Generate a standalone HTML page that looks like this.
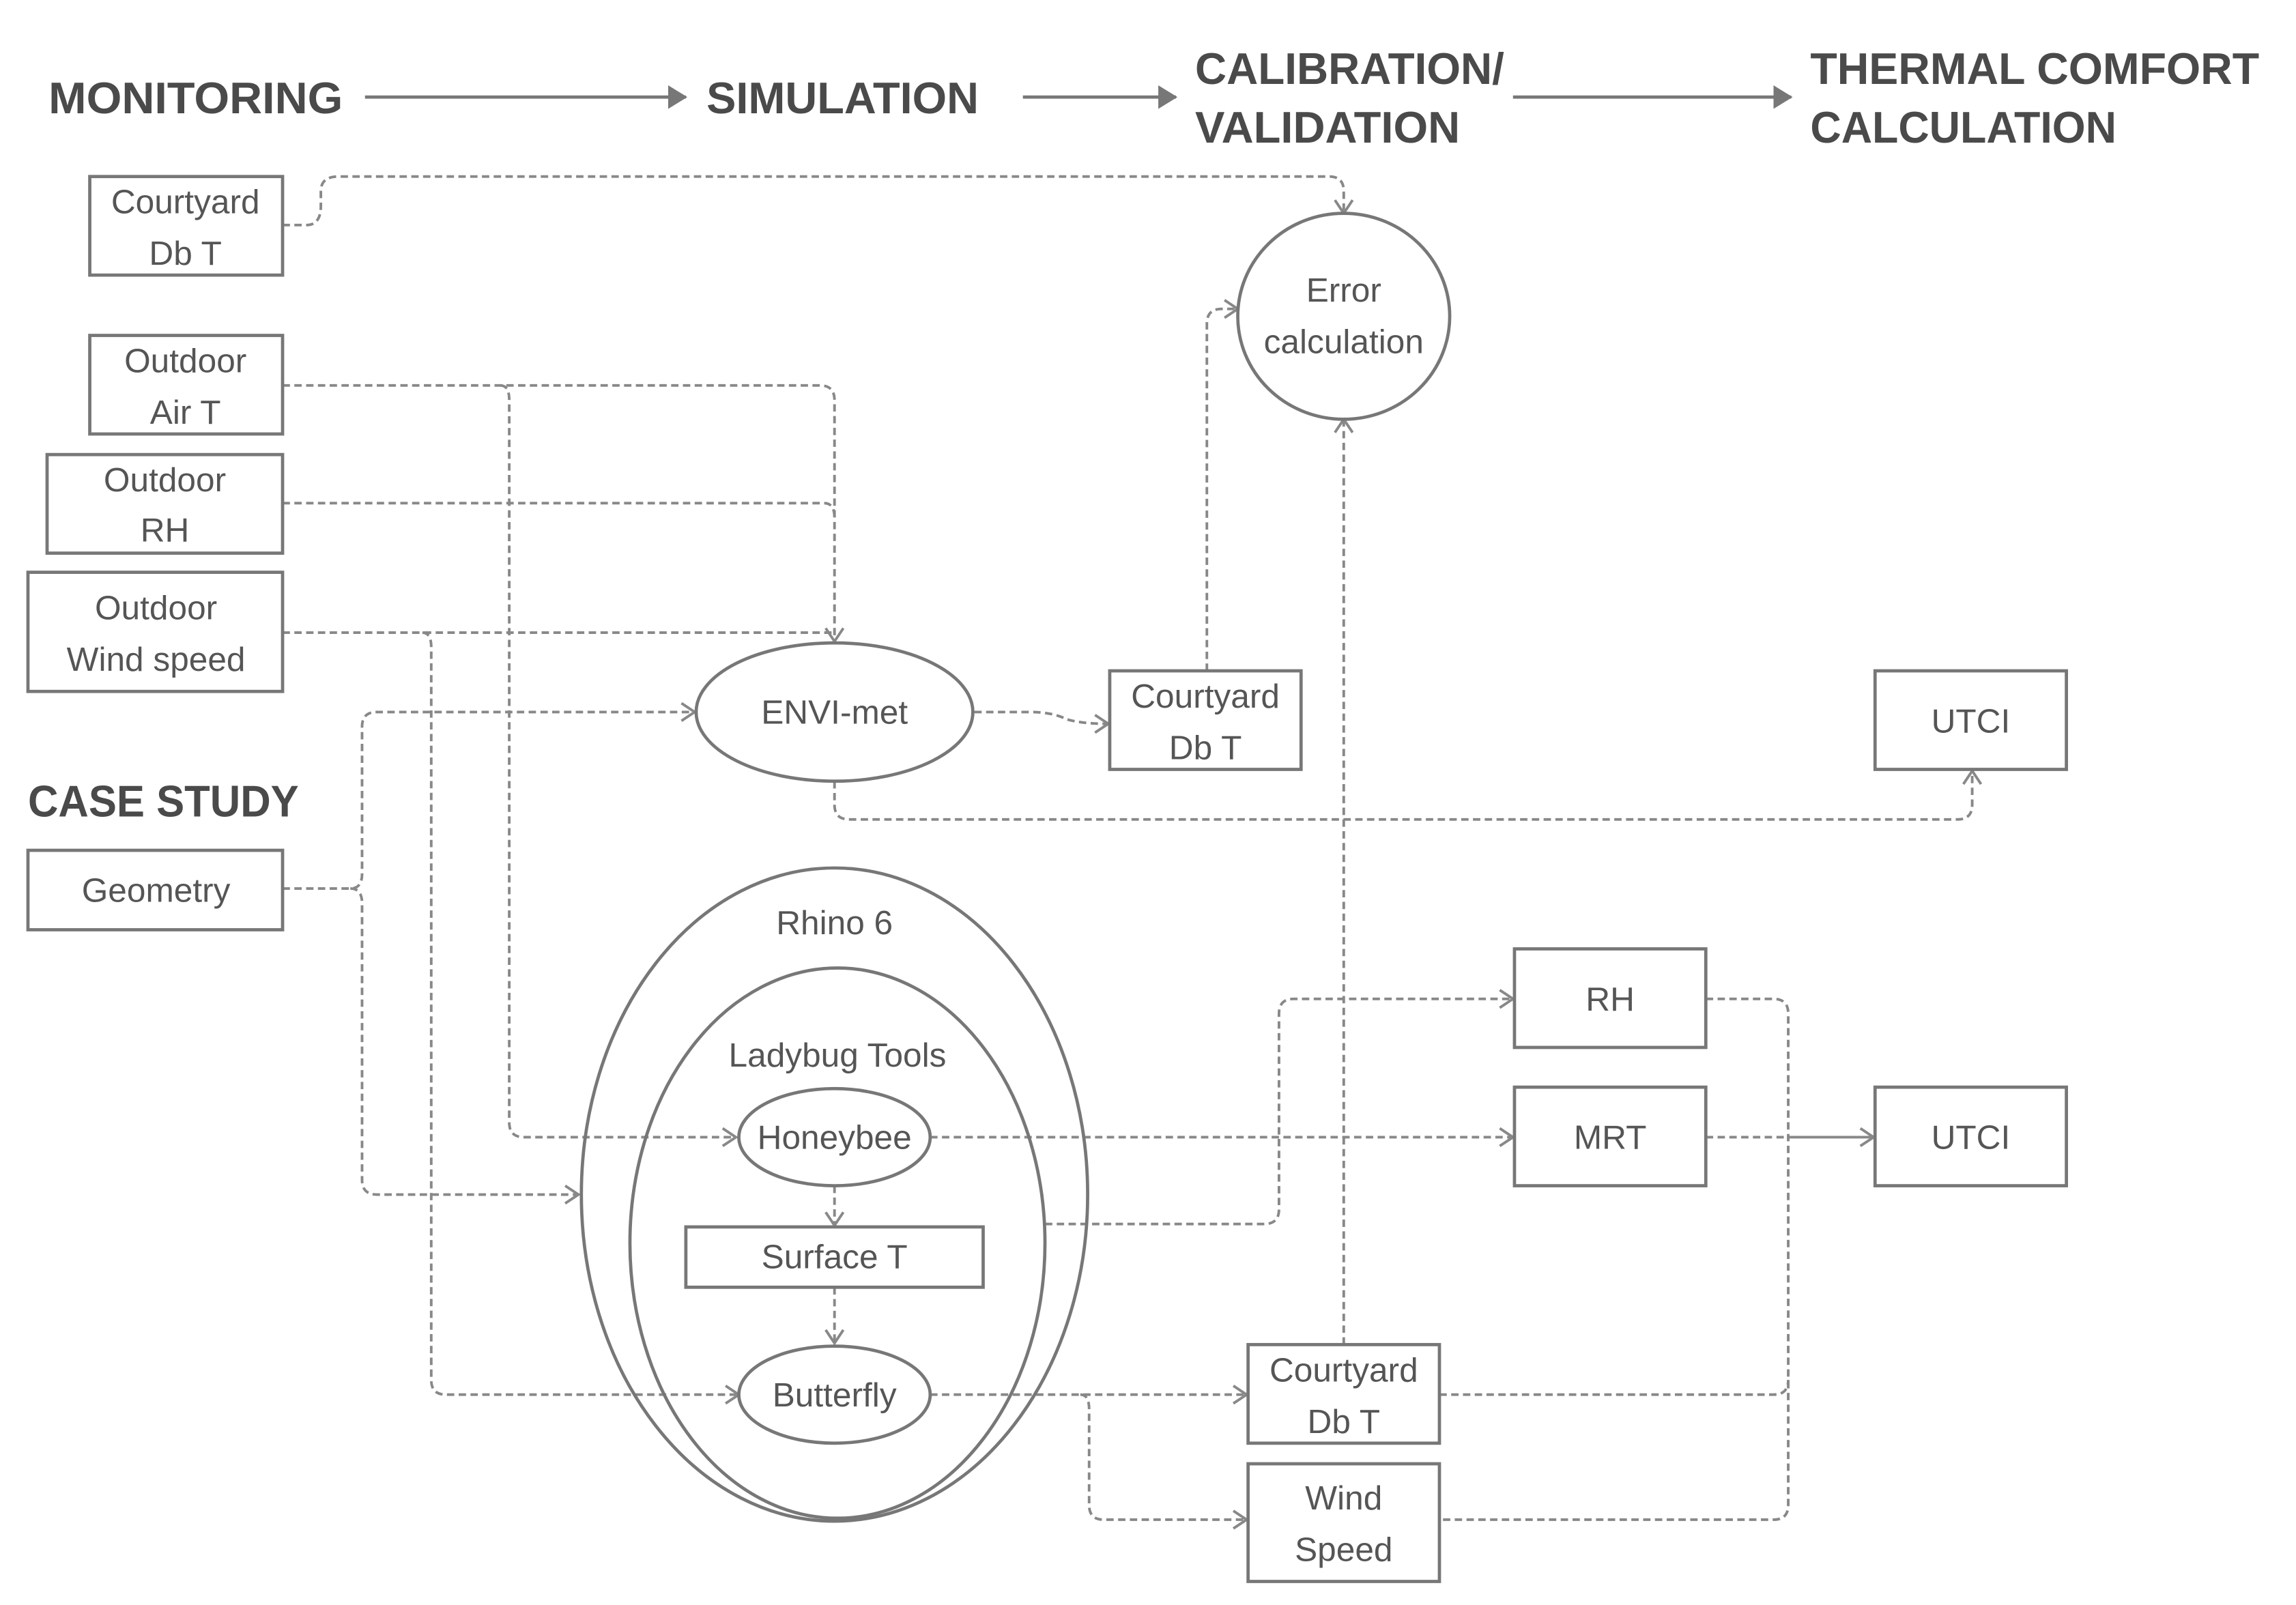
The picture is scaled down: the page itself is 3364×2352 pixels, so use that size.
<!DOCTYPE html>
<html><head><meta charset="utf-8"><style>
html,body{margin:0;padding:0;background:#fff;}
svg{display:block;}
text{font-family:"Liberation Sans",sans-serif;fill:#555;}
.h{font-size:30px;font-weight:bold;fill:#4a4a4a;}
.t{font-size:23px;text-anchor:middle;}
.b{fill:#fff;stroke:#777;stroke-width:2.2;}
.d{fill:none;stroke:#888;stroke-width:1.8;stroke-dasharray:5,3;}
.s{fill:none;stroke:#777;stroke-width:2.2;}
</style></head><body>
<svg width="3364" height="2352" viewBox="0 0 1560 1091" preserveAspectRatio="none" xmlns="http://www.w3.org/2000/svg">
<defs>
<marker id="a" markerWidth="14" markerHeight="14" refX="11" refY="7" orient="auto" markerUnits="userSpaceOnUse">
<path d="M2,1 L11,7 L2,13" fill="none" stroke="#888" stroke-width="1.8"/></marker>
<marker id="f" markerWidth="14" markerHeight="16" refX="12" refY="8" orient="auto" markerUnits="userSpaceOnUse">
<path d="M0,0 L13,8 L0,16 Z" fill="#777"/></marker>
</defs>
<text class="h" x="33" y="77" textLength="200" lengthAdjust="spacingAndGlyphs">MONITORING</text>
<text class="h" x="480" y="77" textLength="185" lengthAdjust="spacingAndGlyphs">SIMULATION</text>
<text class="h" x="812" y="57" textLength="210" lengthAdjust="spacingAndGlyphs">CALIBRATION/</text>
<text class="h" x="812" y="97" textLength="180" lengthAdjust="spacingAndGlyphs">VALIDATION</text>
<text class="h" x="1230" y="57" textLength="305" lengthAdjust="spacingAndGlyphs">THERMAL COMFORT</text>
<text class="h" x="1230" y="97" textLength="208" lengthAdjust="spacingAndGlyphs">CALCULATION</text>
<text class="h" x="19" y="555" textLength="184" lengthAdjust="spacingAndGlyphs">CASE STUDY</text>
<line class="s" x1="248" y1="66" x2="466" y2="66" marker-end="url(#f)"/>
<line class="s" x1="695" y1="66" x2="799" y2="66" marker-end="url(#f)"/>
<line class="s" x1="1028" y1="66" x2="1217" y2="66" marker-end="url(#f)"/>

<path class="d" d="M192,153 H208 Q218,153 218,140 V130 Q218,120 230,120 H903 Q913,120 913,130 V145" marker-end="url(#a)"/>
<path class="d" d="M192,262 H557 Q567,262 567,272 V436" marker-end="url(#a)"/>
<path class="d" d="M340,262 Q346,262 346,272 V763 Q346,773 356,773 H500" marker-end="url(#a)"/>
<path class="d" d="M192,342 H560 Q567,342 567,352"/>
<path class="d" d="M192,430 H565"/>
<path class="d" d="M287,430 Q293,430 293,440 V938 Q293,948 303,948 H502" marker-end="url(#a)"/>
<path class="d" d="M192,604 H238 Q246,604 246,594 V494 Q246,484 256,484 H472" marker-end="url(#a)"/>
<path class="d" d="M238,604 Q246,604 246,614 V802 Q246,812 256,812 H393" marker-end="url(#a)"/>
<path class="d" d="M662,484 H700 Q715,484 725,489 Q735,492 753,492" marker-end="url(#a)"/>
<path class="d" d="M820,456 V220 Q820,210 830,210 H841" marker-end="url(#a)"/>
<path class="d" d="M567,531 V547 Q567,557 577,557 H1330 Q1340,557 1340,547 V524" marker-end="url(#a)"/>
<path class="d" d="M913,914 V285" marker-end="url(#a)"/>
<path class="d" d="M632,773 H1028" marker-end="url(#a)"/>
<path class="d" d="M710,832 H859 Q869,832 869,822 V689 Q869,679 879,679 H1028" marker-end="url(#a)"/>
<path class="d" d="M567,806 V833" marker-end="url(#a)"/>
<path class="d" d="M567,875 V913" marker-end="url(#a)"/>
<path class="d" d="M632,948 H847" marker-end="url(#a)"/>
<path class="d" d="M734,948 Q740,948 740,958 V1023 Q740,1033 750,1033 H847" marker-end="url(#a)"/>
<path class="d" d="M1159,679 H1205 Q1215,679 1215,689 V1023 Q1215,1033 1205,1033 H978"/>
<path class="d" d="M978,948 H1205 Q1215,948 1215,938"/>
<path class="d" d="M1159,773 H1215"/>
<path d="M1215,773 H1273" fill="none" stroke="#888" stroke-width="1.8" marker-end="url(#a)"/>

<rect class="b" x="61" y="120" width="131" height="67"/>
<text class="t" x="126" y="145">Courtyard</text><text class="t" x="126" y="180">Db T</text>
<rect class="b" x="61" y="228" width="131" height="67"/>
<text class="t" x="126" y="253">Outdoor</text><text class="t" x="126" y="288">Air T</text>
<rect class="b" x="32" y="309" width="160" height="67"/>
<text class="t" x="112" y="334">Outdoor</text><text class="t" x="112" y="368">RH</text>
<rect class="b" x="19" y="389" width="173" height="81"/>
<text class="t" x="106" y="421">Outdoor</text><text class="t" x="106" y="456">Wind speed</text>
<rect class="b" x="19" y="578" width="173" height="54"/>
<text class="t" x="106" y="613">Geometry</text>

<ellipse class="b" cx="913" cy="215" rx="72" ry="70"/>
<text class="t" x="913" y="205">Error</text><text class="t" x="913" y="240">calculation</text>
<ellipse class="b" cx="567" cy="484" rx="94" ry="47"/>
<text class="t" x="567" y="492">ENVI-met</text>
<rect class="b" x="754" y="456" width="130" height="67"/>
<text class="t" x="819" y="481">Courtyard</text><text class="t" x="819" y="516">Db T</text>
<rect class="b" x="1274" y="456" width="130" height="67"/>
<text class="t" x="1339" y="498">UTCI</text>

<ellipse class="s" cx="567" cy="812" rx="172" ry="222"/>
<text class="t" x="567" y="635">Rhino 6</text>
<ellipse class="s" cx="569" cy="845" rx="141" ry="187"/>
<text class="t" x="569" y="725">Ladybug Tools</text>
<ellipse class="b" cx="567" cy="773" rx="65" ry="33"/>
<text class="t" x="567" y="781">Honeybee</text>
<rect class="b" x="466" y="834" width="202" height="41"/>
<text class="t" x="567" y="862">Surface T</text>
<ellipse class="b" cx="567" cy="948" rx="65" ry="33"/>
<text class="t" x="567" y="956">Butterfly</text>

<rect class="b" x="1029" y="645" width="130" height="67"/>
<text class="t" x="1094" y="687">RH</text>
<rect class="b" x="1029" y="739" width="130" height="67"/>
<text class="t" x="1094" y="781">MRT</text>
<rect class="b" x="1274" y="739" width="130" height="67"/>
<text class="t" x="1339" y="781">UTCI</text>
<rect class="b" x="848" y="914" width="130" height="67"/>
<text class="t" x="913" y="939">Courtyard</text><text class="t" x="913" y="974">Db T</text>
<rect class="b" x="848" y="995" width="130" height="80"/>
<text class="t" x="913" y="1026">Wind</text><text class="t" x="913" y="1061">Speed</text>
</svg>
</body></html>
